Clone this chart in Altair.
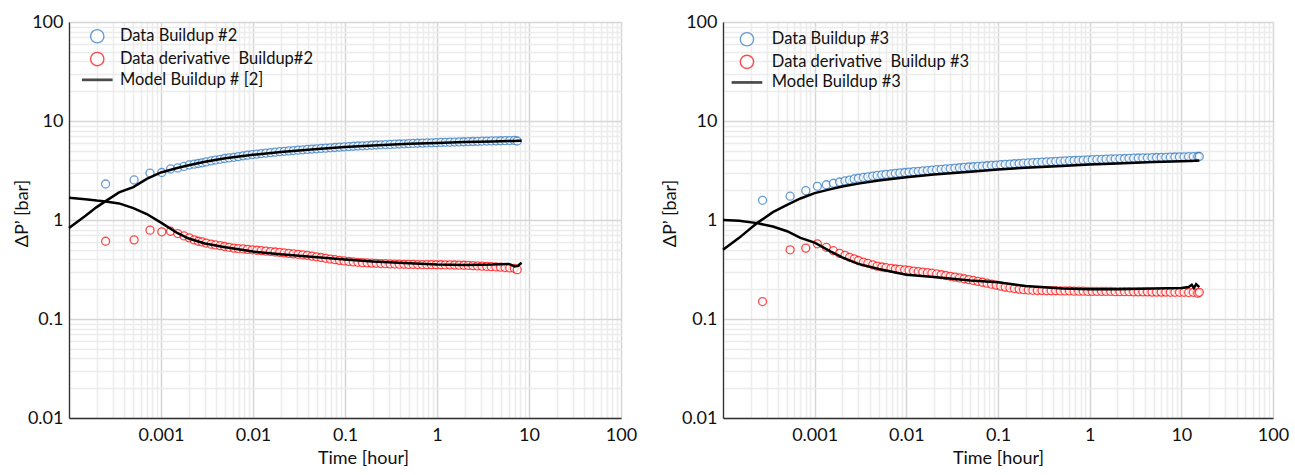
import altair as alt
import pandas as pd

# ---- Buildup #2 ----
t2 = [0.00025, 0.00051, 0.00076, 0.00102, 0.00127, 0.00152, 0.00178, 0.00203, 0.00229, 0.00254,
      0.0028, 0.0031, 0.0035, 0.0039, 0.0044, 0.0049, 0.0055, 0.0062, 0.0069, 0.0078,
      0.0087, 0.0098, 0.011, 0.0123, 0.0138, 0.0155, 0.0174, 0.0195, 0.0219, 0.0245,
      0.0275, 0.0309, 0.0347, 0.0389, 0.0437, 0.049, 0.055, 0.0617, 0.0692, 0.0776,
      0.0871, 0.0977, 0.11, 0.123, 0.138, 0.155, 0.174, 0.195, 0.219, 0.245,
      0.275, 0.309, 0.347, 0.389, 0.437, 0.49, 0.55, 0.617, 0.692, 0.776,
      0.871, 0.977, 1.1, 1.23, 1.38, 1.55, 1.74, 1.95, 2.19, 2.45,
      2.75, 3.09, 3.47, 3.89, 4.37, 4.9, 5.5, 6.17, 6.92, 7.45]
p2 = [2.31, 2.54, 2.98, 3.02, 3.28, 3.36, 3.48, 3.6, 3.66, 3.72,
      3.78, 3.86, 3.95, 4.03, 4.1, 4.18, 4.24, 4.3, 4.37, 4.45,
      4.52, 4.58, 4.63, 4.69, 4.74, 4.79, 4.84, 4.9, 4.94, 4.99,
      5.03, 5.07, 5.12, 5.16, 5.2, 5.24, 5.28, 5.32, 5.36, 5.4,
      5.44, 5.48, 5.52, 5.56, 5.59, 5.62, 5.65, 5.69, 5.72, 5.75,
      5.78, 5.8, 5.83, 5.86, 5.88, 5.91, 5.93, 5.96, 5.98, 6.0,
      6.02, 6.04, 6.07, 6.09, 6.11, 6.13, 6.15, 6.17, 6.19, 6.21,
      6.23, 6.25, 6.27, 6.29, 6.3, 6.32, 6.33, 6.35, 6.36, 6.28]
d2 = [0.61, 0.63, 0.79, 0.76, 0.77, 0.73, 0.69, 0.66, 0.63, 0.61,
      0.6, 0.585, 0.57, 0.56, 0.55, 0.54, 0.53, 0.52, 0.515, 0.51,
      0.505, 0.5, 0.495, 0.49, 0.485, 0.48, 0.475, 0.47, 0.465, 0.46,
      0.455, 0.45, 0.445, 0.44, 0.432, 0.425, 0.418, 0.41, 0.403, 0.397,
      0.391, 0.386, 0.381, 0.377, 0.374, 0.371, 0.369, 0.367, 0.365, 0.363,
      0.362, 0.36, 0.359, 0.358, 0.357, 0.356, 0.356, 0.355, 0.355, 0.354,
      0.354, 0.353, 0.353, 0.352, 0.352, 0.351, 0.35, 0.349, 0.348, 0.346,
      0.344, 0.342, 0.34, 0.338, 0.336, 0.334, 0.331, 0.328, 0.325, 0.315]
mt2 = [0.0001, 0.00015, 0.0002, 0.00025, 0.00035, 0.0005, 0.0007, 0.001, 0.0015, 0.002,
       0.003, 0.005, 0.01, 0.02, 0.05, 0.1, 0.2, 0.5, 1, 2, 4, 6, 7, 7.6, 8.3]
mp2 = [0.83, 1.1, 1.35, 1.55, 1.9, 2.15, 2.6, 3.02, 3.35, 3.57,
       3.88, 4.2, 4.55, 4.87, 5.2, 5.45, 5.65, 5.88, 6.0, 6.13, 6.22, 6.27, 6.29, 6.3, 6.3]
md2 = [1.68, 1.62, 1.57, 1.54, 1.47, 1.32, 1.15, 0.94, 0.74, 0.65,
       0.58, 0.53, 0.48, 0.45, 0.42, 0.40, 0.38, 0.365, 0.355, 0.352, 0.355, 0.36, 0.34, 0.345, 0.37]
labels2 = ["Data Buildup #2", "Data derivative\u00a0 Buildup#2", "Model Buildup # [2]"]

# ---- Buildup #3 ----
t3 = [0.00027, 0.00054, 0.0008, 0.00107, 0.00134, 0.0016, 0.00187, 0.00214, 0.0024, 0.0027,
      0.003, 0.0034, 0.0038, 0.0043, 0.0048, 0.0054, 0.006, 0.0068, 0.0076, 0.0085,
      0.0096, 0.0107, 0.012, 0.0135, 0.0151, 0.017, 0.019, 0.0214, 0.024, 0.0269,
      0.0302, 0.0339, 0.038, 0.0427, 0.0479, 0.0537, 0.0603, 0.0676, 0.0759, 0.0851,
      0.0955, 0.107, 0.12, 0.135, 0.151, 0.17, 0.19, 0.214, 0.24, 0.269,
      0.302, 0.339, 0.38, 0.427, 0.479, 0.537, 0.603, 0.676, 0.759, 0.851,
      0.955, 1.07, 1.2, 1.35, 1.51, 1.7, 1.9, 2.14, 2.4, 2.69,
      3.02, 3.39, 3.8, 4.27, 4.79, 5.37, 6.03, 6.76, 7.59, 8.51,
      9.55, 10.7, 12.0, 13.5, 15.1, 15.7]
p3 = [1.58, 1.74, 1.98, 2.19, 2.27, 2.35, 2.42, 2.48, 2.53, 2.6,
      2.64, 2.69, 2.73, 2.78, 2.82, 2.86, 2.89, 2.93, 2.96, 2.99,
      3.02, 3.05, 3.08, 3.1, 3.13, 3.16, 3.19, 3.22, 3.25, 3.28,
      3.31, 3.34, 3.37, 3.4, 3.43, 3.45, 3.48, 3.5, 3.53, 3.56,
      3.59, 3.62, 3.65, 3.67, 3.7, 3.72, 3.75, 3.77, 3.8, 3.82,
      3.84, 3.87, 3.89, 3.91, 3.93, 3.95, 3.97, 3.99, 4.01, 4.03,
      4.05, 4.07, 4.09, 4.1, 4.12, 4.14, 4.15, 4.17, 4.18, 4.2,
      4.21, 4.23, 4.24, 4.25, 4.27, 4.28, 4.29, 4.3, 4.31, 4.33,
      4.34, 4.35, 4.36, 4.37, 4.38, 4.38]
d3 = [0.15, 0.5, 0.52, 0.575, 0.53, 0.49, 0.46, 0.44, 0.42, 0.405,
      0.39, 0.375, 0.365, 0.352, 0.342, 0.335, 0.33, 0.325, 0.32, 0.317,
      0.314, 0.31, 0.305, 0.301, 0.298, 0.294, 0.29, 0.285, 0.28, 0.275,
      0.27, 0.265, 0.26, 0.255, 0.25, 0.245, 0.24, 0.235, 0.23, 0.225,
      0.22, 0.215, 0.21, 0.206, 0.203, 0.2, 0.198, 0.196, 0.195, 0.194,
      0.194, 0.193, 0.193, 0.193, 0.192, 0.192, 0.192, 0.191, 0.191, 0.191,
      0.19, 0.19, 0.19, 0.19, 0.19, 0.19, 0.189, 0.189, 0.189, 0.189,
      0.188, 0.188, 0.188, 0.188, 0.187, 0.187, 0.187, 0.187, 0.186, 0.186,
      0.186, 0.186, 0.185, 0.186, 0.182, 0.186]
mt3 = [0.0001, 0.00015, 0.000235, 0.00035, 0.0005, 0.0007, 0.001, 0.0015, 0.002, 0.003,
       0.005, 0.01, 0.02, 0.05, 0.1, 0.2, 0.5, 1, 2, 5, 10, 12, 13, 13.7, 14.5, 15.7]
mp3 = [0.5, 0.66, 0.93, 1.2, 1.42, 1.65, 1.87, 2.05, 2.18, 2.33,
       2.5, 2.7, 2.88, 3.08, 3.23, 3.38, 3.52, 3.63, 3.73, 3.85, 3.92, 3.94, 3.95, 3.96, 3.97, 4.0]
md3 = [1.0, 0.98, 0.93, 0.86, 0.77, 0.66, 0.59, 0.48, 0.42, 0.36,
       0.32, 0.28, 0.265, 0.245, 0.235, 0.215, 0.203, 0.2, 0.2, 0.203, 0.206, 0.21, 0.222, 0.205, 0.225, 0.21]
labels3 = ["Data Buildup #3", "Data derivative\u00a0 Buildup #3", "Model Buildup #3"]

# ---- axis grids: every 1..9 x decade ----
x_grid = [m * 10.0 ** e for e in range(-4, 2) for m in range(1, 10)] + [100.0]
y_grid = [m * 10.0 ** e for e in range(-2, 2) for m in range(1, 10)] + [100.0]

BLUE = "#2A74C0"
RED = "#FF0000"
FONT = "Lato"
MAJOR = "abs(log(datum.value)/LN10 - round(log(datum.value)/LN10)) < 0.001"
GRID_COLOR = {"condition": {"test": MAJOR, "value": "#d6d6d6"}, "value": "#ececec"}
LINE_SYMBOL = "M-2.2,-0.1H2.2V0.1H-2.2Z"


def panel(t, p, d, mt, mp, md, labels, width, x_title_x, y_title_pad, legend_x, legend_y,
          label_offset, row_pad):
    pts = pd.DataFrame({
        "t": t + t,
        "v": p + d,
        "series": [labels[0]] * len(t) + [labels[1]] * len(t),
    })
    mdl = pd.DataFrame({
        "t": mt + mt,
        "v": mp + md,
        "curve": ["pressure"] * len(mt) + ["derivative"] * len(mt),
    })
    x_enc = alt.X(
        "t:Q",
        scale=alt.Scale(type="log", domain=[1e-4, 100], nice=False),
        axis=alt.Axis(
            title="Time [hour]", values=x_grid, format="~g",
            labelExpr=f"({MAJOR}) && datum.value > 0.0005 ? datum.label : ''",
            ticks=False, grid=True, gridColor=GRID_COLOR, gridWidth=1.5,
            labelOverlap=False, labelFlush=False, labelPadding=8,
            labelFontSize=18, labelFont=FONT, labelColor="#111",
            titleFontSize=18, titleFont=FONT, titleFontWeight="normal", titleColor="#111",
            titlePadding=5, titleX=x_title_x,
            domainColor="#333", domainWidth=1.3,
        ),
    )
    y_enc = alt.Y(
        "v:Q",
        scale=alt.Scale(type="log", domain=[0.01, 100], nice=False),
        axis=alt.Axis(
            title="ΔP’ [bar]", values=y_grid, format="~g",
            labelExpr=f"({MAJOR}) ? datum.label : ''",
            ticks=False, grid=True, gridColor=GRID_COLOR, gridWidth=1.5,
            labelOverlap=False, labelFlush=False, labelPadding=6,
            labelFontSize=18, labelFont=FONT, labelColor="#111",
            titleFontSize=18, titleFont=FONT, titleFontWeight="normal", titleColor="#111",
            titlePadding=y_title_pad, titleY=191,
            domainColor="#333", domainWidth=1.3,
        ),
    )
    legend = alt.Legend(
        title=None, orient="none", legendX=legend_x, legendY=legend_y, padding=0,
        symbolSize=177, symbolStrokeWidth=1.4, labelFontSize=16.5, labelFont=FONT,
        labelColor="#111", labelOffset=label_offset, rowPadding=row_pad, labelLimit=400,
    )
    points = alt.Chart(pts).mark_point(filled=False, fill="white", size=64, strokeWidth=1.3).encode(
        x=x_enc,
        y=y_enc,
        color=alt.Color("series:N", scale=alt.Scale(domain=labels, range=[BLUE, RED, "black"]),
                        legend=legend),
        shape=alt.Shape("series:N", scale=alt.Scale(domain=labels,
                                                    range=["circle", "circle", LINE_SYMBOL]),
                        legend=legend),
    )
    model = alt.Chart(mdl).mark_line(color="black", strokeWidth=2.5).encode(
        x="t:Q", y="v:Q", detail="curve:N",
    )
    return alt.layer(points, model).properties(width=width, height=396)


left = panel(t2, p2, d2, mt2, mp2, md2, labels2, 552, 294, -4, 20, 6, 14.4, 2.8)
right = panel(t3, p3, d3, mt3, mp3, md3, labels3, 550, 275, 2, 15.7, 9, 16.6, 2.6)

chart = alt.hconcat(left, right, spacing=102, bounds="flush").resolve_scale(
    color="independent", shape="independent"
).configure_view(
    stroke="#6b6b6b", strokeWidth=1
).configure(font=FONT).properties(padding={"left": 12, "top": 12, "right": 0, "bottom": 0})

chart.save("out.html", embed_options={"renderer": "svg", "actions": False})
